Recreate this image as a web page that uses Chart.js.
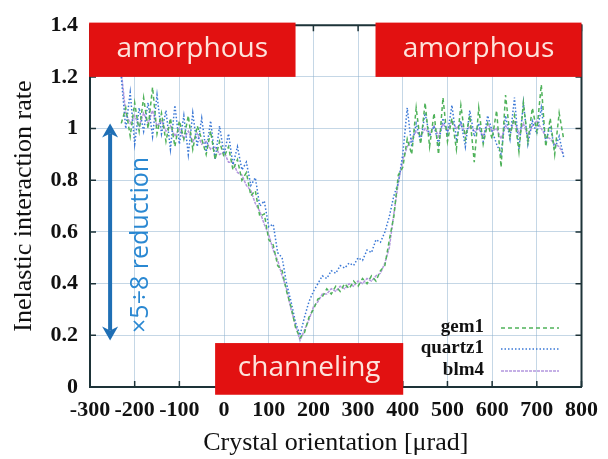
<!DOCTYPE html>
<html><head><meta charset="utf-8">
<script src="https://cdn.jsdelivr.net/npm/chart.js@4.4.1/dist/chart.umd.min.js"></script>
<style>html,body{margin:0;padding:0;background:#fff}#wrap{width:608px;height:459px}</style>
</head><body><div id="wrap"><canvas id="c" width="608" height="459"></canvas></div>
<script>
const orientation = [-230,-220,-210,-200,-190,-180,-170,-160,-150,-140,-130,-120,-110,-100,-90,-80,-70,-60,-50,-40,-30,-20,-10,0,10,20,30,40,50,60,70,80,90,100,110,120,130,140,150,160,170,180,190,200,210,220,230,240,250,260,270,280,290,300,310,320,330,340,350,360,370,380,390,400,410,420,430,440,450,460,470,480,490,500,510,520,530,540,550,560,570,580,590,600,610,620,630,640,650,660,670,680,690,700,710,720,730,740,750,760];
const gem1 = [1.02,1.08,0.97,1.10,0.99,1.12,1.00,1.16,0.98,1.06,0.95,1.04,0.93,1.03,0.96,1.05,0.92,1.01,0.96,0.90,0.99,0.88,0.95,0.89,0.93,0.84,0.88,0.80,0.83,0.74,0.76,0.66,0.67,0.57,0.55,0.47,0.45,0.37,0.31,0.23,0.19,0.21,0.27,0.30,0.34,0.35,0.38,0.36,0.39,0.37,0.40,0.38,0.41,0.39,0.42,0.40,0.43,0.41,0.45,0.47,0.57,0.66,0.82,0.85,0.96,0.90,1.08,0.94,1.10,0.93,1.06,0.90,1.12,0.95,1.04,0.92,1.09,0.96,1.05,0.87,1.08,0.94,1.02,0.96,1.07,0.85,1.13,0.97,1.05,0.91,1.10,0.95,1.08,0.99,1.17,0.93,1.04,0.90,1.06,0.96];
const quartz1 = [1.20,1.00,1.14,0.94,1.08,0.99,1.10,0.97,1.13,0.98,1.07,0.92,1.09,0.94,1.05,0.90,1.06,0.93,1.04,0.91,1.03,0.88,1.01,0.90,0.98,0.86,0.93,0.84,0.87,0.78,0.81,0.70,0.72,0.62,0.63,0.52,0.50,0.40,0.33,0.25,0.20,0.27,0.33,0.37,0.40,0.43,0.42,0.45,0.44,0.47,0.46,0.48,0.47,0.50,0.49,0.53,0.52,0.57,0.56,0.60,0.66,0.74,0.79,0.90,1.08,0.93,1.02,0.95,1.06,0.97,1.01,0.94,1.04,0.98,1.09,0.96,1.03,0.93,1.07,0.97,1.02,0.95,1.05,0.99,0.94,0.90,1.05,0.96,1.12,0.92,1.10,0.94,1.03,0.98,1.08,0.95,1.01,0.92,0.97,0.89];
const blm4 = [1.22,1.06,1.02,1.05,1.01,1.06,1.02,1.07,1.01,1.03,0.99,1.01,0.97,1.00,0.96,0.99,0.95,0.98,0.94,0.95,0.92,0.93,0.90,0.91,0.87,0.87,0.83,0.82,0.78,0.76,0.71,0.68,0.63,0.59,0.53,0.49,0.43,0.38,0.30,0.24,0.18,0.22,0.26,0.31,0.33,0.36,0.36,0.38,0.37,0.39,0.38,0.40,0.39,0.41,0.40,0.42,0.41,0.43,0.44,0.48,0.54,0.67,0.79,0.88,0.93,0.96,0.99,0.97,1.00,0.98,1.01,0.97,1.02,0.99,1.03,1.00,1.02,0.98,1.01,0.99,1.00,0.97,1.02,0.99,1.00,0.96,1.01,0.99,1.03,0.98,1.02,0.97,1.01,1.03,1.00,0.97,0.96,0.94,0.93,0.90];
const seriesNames = ['gem1','quartz1','blm4'];
const xTicks = [-300,-200,-100,0,100,200,300,400,500,600,700,800];
const yTicks = [0,0.2,0.4,0.6,0.8,1,1.2,1.4];
const regionLabels = ['amorphous','amorphous','channeling'];
const reductionLabel = '×5÷8 reduction';

const styles = [
  {color:'#4fb25a', dash:[4,3]},
  {color:'#3a78d6', dash:[1.5,2]},
  {color:'#b396de', dash:[3,1]}
];
const allSeries = [gem1, quartz1, blm4];
const datasets = allSeries.map((s,i)=>({
  label: seriesNames[i],
  data: s.map((v,j)=>({x:orientation[j], y:v})),
  borderColor: styles[i].color,
  borderDash: styles[i].dash,
  borderWidth: 1.5,
  pointRadius: 0,
  tension: 0,
  fill: false
}));

const serif = "'Liberation Serif','Times New Roman',serif";
const frameColor = '#1d3338';

const overlay = {
  id:'overlay',
  afterDatasetsDraw(chart){
    const ctx = chart.ctx, xs = chart.scales.x, ys = chart.scales.y, a = chart.chartArea;
    ctx.save();
    ctx.strokeStyle = frameColor; ctx.lineWidth = 1.5;
    xTicks.forEach(t=>{ const px = xs.getPixelForValue(t);
      ctx.beginPath(); ctx.moveTo(px,a.bottom); ctx.lineTo(px,a.bottom-6); ctx.moveTo(px,a.top); ctx.lineTo(px,a.top+6); ctx.stroke(); });
    yTicks.forEach(t=>{ const py = ys.getPixelForValue(t);
      ctx.beginPath(); ctx.moveTo(a.left,py); ctx.lineTo(a.left+6,py); ctx.moveTo(a.right,py); ctx.lineTo(a.right-6,py); ctx.stroke(); });
    ctx.lineWidth = 2;
    ctx.beginPath(); ctx.moveTo(a.left,a.top); ctx.lineTo(a.right,a.top); ctx.lineTo(a.right,a.bottom); ctx.stroke();

    const boxes = [
      {x0:-302,x1:160,y0:1.2,y1:1.41},
      {x0:339,x1:800,y0:1.2,y1:1.41},
      {x0:-20,x1:401,y0:-0.03,y1:0.17}
    ];
    boxes.forEach((b,i)=>{
      const l = xs.getPixelForValue(b.x0), r = xs.getPixelForValue(b.x1);
      const t = ys.getPixelForValue(b.y1), btm = ys.getPixelForValue(b.y0);
      ctx.fillStyle = '#e21111';
      ctx.fillRect(l,t,r-l,btm-t);
      ctx.fillStyle = '#fde4dc';
      ctx.font = "28px 'Open Sans', sans-serif";
      ctx.textAlign = 'center'; ctx.textBaseline = 'middle';
      ctx.fillText(regionLabels[i], (l+r)/2, (t+btm)/2 - 1);
    });

    const ax = xs.getPixelForValue(-255);
    const aTop = ys.getPixelForValue(1.02), aBot = ys.getPixelForValue(0.18);
    ctx.strokeStyle = '#1f6fb5'; ctx.fillStyle = '#1f6fb5'; ctx.lineWidth = 4;
    ctx.beginPath(); ctx.moveTo(ax,aTop+10); ctx.lineTo(ax,aBot-10); ctx.stroke();
    ctx.beginPath(); ctx.moveTo(ax,aTop); ctx.lineTo(ax-8,aTop+14); ctx.lineTo(ax,aTop+10); ctx.lineTo(ax+8,aTop+14); ctx.closePath(); ctx.fill();
    ctx.beginPath(); ctx.moveTo(ax,aBot); ctx.lineTo(ax-8,aBot-14); ctx.lineTo(ax,aBot-10); ctx.lineTo(ax+8,aBot-14); ctx.closePath(); ctx.fill();
    ctx.save();
    ctx.translate(xs.getPixelForValue(-187), ys.getPixelForValue(0.55));
    ctx.rotate(-Math.PI/2);
    ctx.fillStyle = '#2a88d2';
    ctx.font = "25px 'Open Sans', sans-serif";
    ctx.textAlign = 'center'; ctx.textBaseline = 'middle';
    ctx.fillText(reductionLabel, 0, 0);
    ctx.restore();

    const rows = [327, 348, 370];
    ctx.font = "bold 19px " + serif;
    ctx.textAlign = 'right'; ctx.textBaseline = 'middle';
    chart.data.datasets.forEach((d,i)=>{
      ctx.fillStyle = '#111';
      ctx.fillText(d.label, 484, rows[i]);
      ctx.strokeStyle = d.borderColor; ctx.lineWidth = 1.5;
      ctx.setLineDash(d.borderDash);
      ctx.beginPath(); ctx.moveTo(501, rows[i]+1); ctx.lineTo(559, rows[i]+1); ctx.stroke();
      ctx.setLineDash([]);
    });
    ctx.restore();
  }
};

new Chart(document.getElementById('c'), {
  type:'line',
  data:{datasets},
  options:{
    responsive:false, animation:false, devicePixelRatio:1,
    layout:{padding:{left:0, top:19, right:22, bottom:0}},
    plugins:{legend:{display:false}, tooltip:{enabled:false}},
    scales:{
      x:{type:'linear', min:-300, max:800,
        afterBuildTicks(s){ s.ticks = xTicks.map(v=>({value:v})); },
        afterFit(s){ s.height = 72; },
        ticks:{font:{family:serif, size:22, weight:'bold'}, color:'#111', padding:10, maxRotation:0, autoSkip:false},
        grid:{color:'rgba(140,175,205,0.5)', drawTicks:false, lineWidth:1},
        border:{display:true, color:frameColor, width:2},
        title:{display:true, text:'Crystal orientation [μrad]', font:{family:serif, size:26}, color:'#111', padding:{top:0,bottom:0}}
      },
      y:{min:0, max:1.4,
        afterBuildTicks(s){ s.ticks = yTicks.map(v=>({value:v})); },
        afterFit(s){ s.width = 90; },
        ticks:{font:{family:serif, size:22, weight:'bold'}, color:'#111', padding:12, callback:v=>String(+v.toFixed(1))},
        grid:{color:'rgba(140,175,205,0.5)', drawTicks:false, lineWidth:1},
        border:{display:true, color:frameColor, width:2},
        title:{display:true, text:'Inelastic interaction rate', font:{family:serif, size:26}, color:'#111', padding:{top:9,bottom:0}}
      }
    }
  },
  plugins:[overlay]
});
</script></body></html>
